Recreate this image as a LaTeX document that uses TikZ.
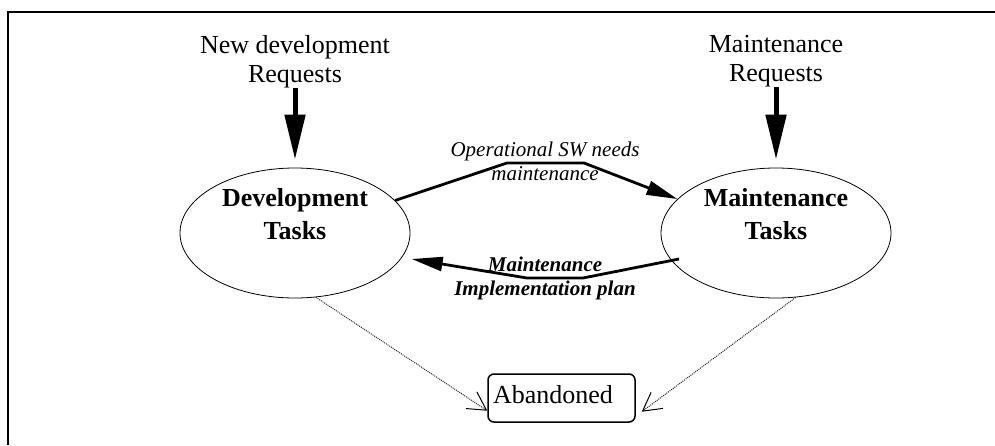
\documentclass[tikz,border=0pt]{standalone}
\usepackage{fontspec}
\setmainfont{Liberation Serif}
\usetikzlibrary{arrows.meta,shapes.geometric,calc}
\begin{document}
\begin{tikzpicture}[x=1pt,y=-1pt,
  task/.style={ellipse, draw, line width=0.8pt, minimum width=230pt, minimum height=130pt, inner sep=0pt},
  tasklabel/.style={font=\fontsize{26}{33}\selectfont\bfseries, align=center, inner sep=0pt},
  req/.style={font=\fontsize{26}{29}\selectfont, align=center, inner sep=0pt},
  reqarrow/.style={line width=5pt, -{Triangle[length=45pt,width=20pt]}, shorten >=8pt},
  flow/.style={line width=2.8pt, -{Triangle[length=31pt,width=14pt]}},
  flowlabel/.style={font=\fontsize{21}{24}\selectfont\itshape, align=center, inner sep=0pt},
  abandonarrow/.style={line width=1pt, dash pattern=on 1pt off 1pt, black!85, -{Straight Barb[length=18pt,width=20pt,line width=1pt,color=black]}},
  endbox/.style={draw, line width=1.5pt, rounded corners=6pt, minimum height=48pt, text width=137pt, inner xsep=5pt, align=left, text height=17pt, text depth=7pt, font=\fontsize{26}{29}\selectfont}
]
\useasboundingbox (0,0) rectangle (995,445);
\draw[line width=1.3pt] (8,445) -- (8,12) -- (995,12);

\node[task] (dev) at (295,233) {};
\node[tasklabel] (devtxt) at (295,214.4) {Development\\Tasks};
\node[task] (maint) at (776,233) {};
\node[tasklabel] (mainttxt) at (776,214.4) {Maintenance\\Tasks};

\node[req, anchor=north] (newreq) at (295,35) {New development\\Requests};
\node[req, anchor=north] (maintreq) at (776,35) {Maintenance\\Requests};

\draw[reqarrow] (newreq.south) -- (dev.north);
\draw[reqarrow] (maintreq.south) -- (maint.north);

\coordinate (u1) at (507,163);
\coordinate (u2) at (584,163);
\draw[flow] (dev.18.5) -- (u1) -- (u2) -- (maint.161.6);
\node[flowlabel] (ulabel) at (545,161) {Operational SW needs\\maintenance};

\coordinate (l1) at (583,278);
\coordinate (l2) at (527,278);
\draw[flow] ($(maint.center)+(-97,26)$) -- (l1) -- (l2) -- ($(dev.center)+(116.7,26)$);
\node[flowlabel, font=\fontsize{21}{24}\selectfont\bfseries\itshape] (llabel) at (545,278.6) {Maintenance\\Implementation plan};

\node[endbox] (ab) at (561.5,398) {Abandoned};

\draw[abandonarrow] (dev.-72.6) -- ($(ab.west)+(0,12.7)$);
\draw[abandonarrow] (maint.-73.4) -- ($(ab.east)+(6,13.7)$);
\end{tikzpicture}
\end{document}
